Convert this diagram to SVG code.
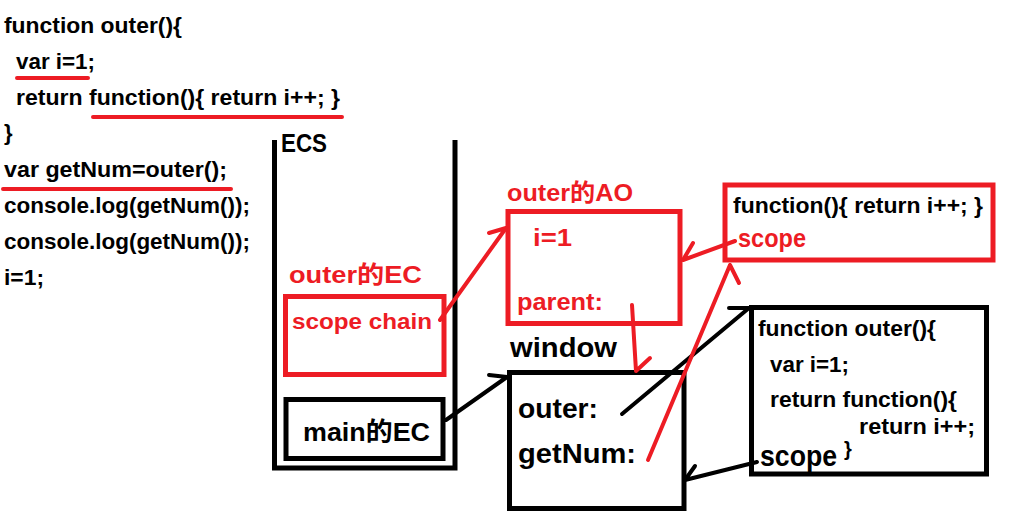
<svg xmlns="http://www.w3.org/2000/svg" width="1018" height="521" viewBox="0 0 1018 521">
<style>
text{font-family:"Liberation Sans","Noto Sans CJK SC",sans-serif;font-weight:bold;fill:#000}
.r{fill:#ED1C24}
.code{font-size:22px}
.bx{fill:none;stroke:#000;stroke-width:5}
.rbx{fill:none;stroke:#ED1C24;stroke-width:5}
.k{fill:none;stroke:#000;stroke-width:4;stroke-linecap:round;stroke-linejoin:round}
.rl{fill:none;stroke:#ED1C24;stroke-width:4;stroke-linecap:round;stroke-linejoin:round}
</style>
<rect width="1018" height="521" fill="#fff"/>
<g id="code">
<text class="code" x="4" y="33" textLength="178" lengthAdjust="spacingAndGlyphs">function outer(){</text>
<text class="code" x="16" y="69" textLength="79" lengthAdjust="spacingAndGlyphs">var i=1;</text>
<text class="code" x="16" y="105" textLength="324" lengthAdjust="spacingAndGlyphs">return function(){ return i++; }</text>
<text class="code" x="4" y="140">}</text>
<text class="code" x="4" y="177" textLength="223" lengthAdjust="spacingAndGlyphs">var getNum=outer();</text>
<text class="code" x="4" y="213" textLength="246" lengthAdjust="spacingAndGlyphs">console.log(getNum());</text>
<text class="code" x="4" y="249" textLength="246" lengthAdjust="spacingAndGlyphs">console.log(getNum());</text>
<text class="code" x="4" y="285" textLength="40" lengthAdjust="spacingAndGlyphs">i=1;</text>
<path class="rl" d="M17,78 H88 M93,117 H342 M3,189 H231"/>
</g>
<g id="ecs">
<path class="bx" d="M274.5,140 V468 H455 V140"/>
<text x="281" y="152" font-size="26" textLength="46" lengthAdjust="spacingAndGlyphs">ECS</text>
</g>
<g id="outer-ec">
<text class="r" x="289" y="283" font-size="24" textLength="133" lengthAdjust="spacingAndGlyphs">outer的EC</text>
<rect class="rbx" x="285.5" y="296.5" width="158.5" height="78"/>
<text class="r" x="292" y="329" font-size="22" textLength="140" lengthAdjust="spacingAndGlyphs">scope chain</text>
</g>
<g id="main-ec">
<rect class="bx" x="286" y="399.5" width="157" height="59"/>
<text x="303" y="441" font-size="26" textLength="127" lengthAdjust="spacingAndGlyphs">main的EC</text>
</g>
<g id="outer-ao">
<text class="r" x="507" y="201" font-size="24" textLength="126" lengthAdjust="spacingAndGlyphs">outer的AO</text>
<rect class="rbx" x="508" y="211.5" width="172" height="112"/>
<text class="r" x="533" y="246" font-size="24" textLength="39" lengthAdjust="spacingAndGlyphs">i=1</text>
<text class="r" x="517" y="310" font-size="23" textLength="86" lengthAdjust="spacingAndGlyphs">parent:</text>
</g>
<g id="window">
<text x="510" y="357" font-size="28" textLength="107" lengthAdjust="spacingAndGlyphs">window</text>
<rect class="bx" x="509.5" y="372.5" width="174.5" height="136"/>
<text x="518" y="418" font-size="27" textLength="80" lengthAdjust="spacingAndGlyphs">outer:</text>
<text x="518" y="463" font-size="27" textLength="118" lengthAdjust="spacingAndGlyphs">getNum:</text>
</g>
<g id="inner-fn">
<rect class="rbx" x="725" y="185" width="268" height="75"/>
<text class="code" x="733" y="213" textLength="250" lengthAdjust="spacingAndGlyphs">function(){ return i++; }</text>
<text class="r" x="738" y="247" font-size="25" textLength="68" lengthAdjust="spacingAndGlyphs">scope</text>
</g>
<g id="outer-fn">
<rect class="bx" x="751.5" y="307.5" width="235" height="166.5"/>
<text class="code" x="758" y="336" textLength="178" lengthAdjust="spacingAndGlyphs">function outer(){</text>
<text class="code" x="770" y="372" textLength="79" lengthAdjust="spacingAndGlyphs">var i=1;</text>
<text class="code" x="770" y="407" textLength="187" lengthAdjust="spacingAndGlyphs">return function(){</text>
<text class="code" x="859" y="434" textLength="116" lengthAdjust="spacingAndGlyphs">return i++;</text>
<text x="760" y="466" font-size="29" textLength="77" lengthAdjust="spacingAndGlyphs">scope</text>
<text x="844" y="456" font-size="20">}</text>
</g>
<g id="connectors">
<path class="rl" d="M440,320 L506,228 M489,233 L506,228"/>
<path class="rl" d="M632,305 L636,371 M650,358 L636,371"/>
<path class="k" d="M622,414 L749,308 M729,308 L749,308"/>
<path class="rl" d="M648,460 L730,265 M739,283 L730,265"/>
<path class="rl" d="M735,241 L683,260 M693,243 L683,260"/>
<path class="k" d="M446,420 L507,377 M489,375 L507,377"/>
<path class="k" d="M757,462 L685,480 M695,466 L685,480"/>
</g>
</svg>
